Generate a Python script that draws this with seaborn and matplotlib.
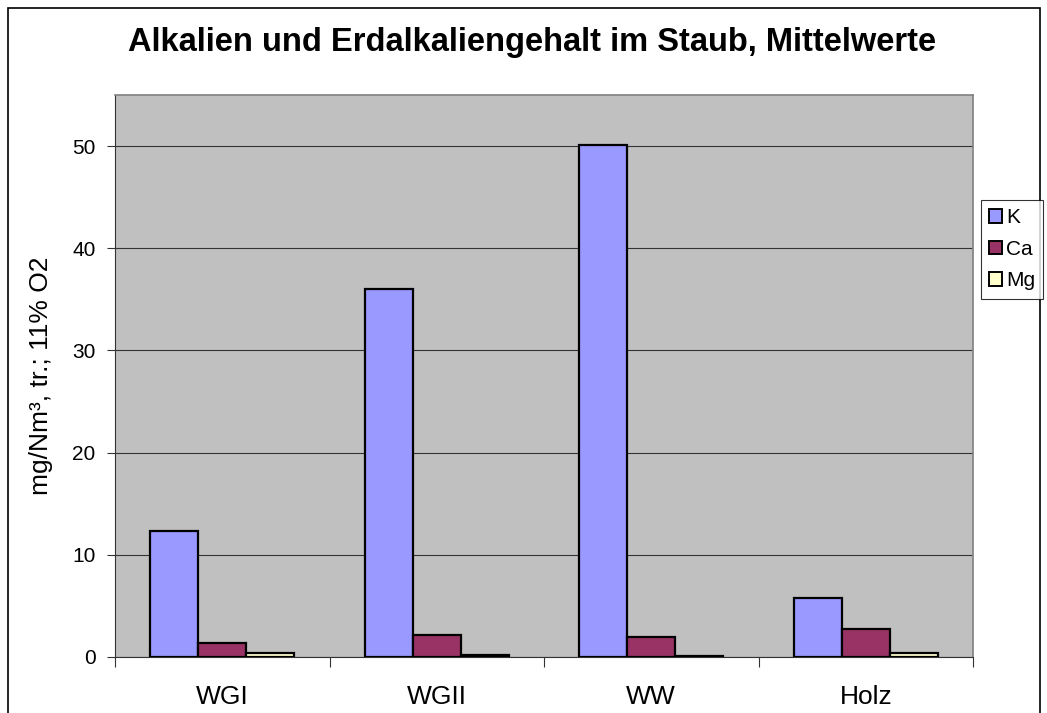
import pandas as pd
import matplotlib.pyplot as plt
import seaborn as sns
from matplotlib.patches import Rectangle
from matplotlib.ticker import FixedLocator

categories = ['WGI', 'WGII', 'WW', 'Holz']
k_values = [12.3, 36.0, 50.1, 5.8]
ca_values = [1.4, 2.2, 2.0, 2.7]
mg_values = [0.4, 0.15, 0.12, 0.43]
series = ['K', 'Ca', 'Mg']
colors = ['#9999FF', '#993366', '#FFFFCC']

df = pd.DataFrame({
    'Kategorie': categories * 3,
    'Element': [s for s in series for _ in categories],
    'Wert': k_values + ca_values + mg_values,
})

sns.set_style('white')
plt.rcParams['font.family'] = ['Liberation Sans', 'DejaVu Sans']
plt.rcParams['text.color'] = 'black'
plt.rcParams['xtick.color'] = 'black'
plt.rcParams['ytick.color'] = 'black'
plt.rcParams['axes.labelcolor'] = 'black'

fig = plt.figure(figsize=(10.47, 7.13), dpi=100)
ax = fig.add_axes([115 / 1047, 1 - 657 / 713, 858 / 1047, 562 / 713])
ax.set_facecolor('#C0C0C0')

sns.barplot(data=df, x='Kategorie', y='Wert', hue='Element', order=categories,
            hue_order=series, palette=colors, saturation=1, width=0.673, gap=0,
            edgecolor='black', linewidth=1.6, ax=ax, legend=False, zorder=3)

ax.set_ylim(0, 55)
ax.set_xlim(-0.5, 3.5)
ax.set_yticks([0, 10, 20, 30, 40, 50])
ax.yaxis.grid(True, color='#333333', linewidth=0.8, zorder=0)
ax.set_axisbelow(True)
ax.tick_params(axis='y', left=True, length=6, width=0.8, color='#333333',
               labelsize=15, pad=8)
ax.tick_params(axis='x', which='major', length=0, labelsize=19, pad=20)
ax.xaxis.set_minor_locator(FixedLocator([-0.5, 0.5, 1.5, 2.5, 3.5]))
ax.tick_params(axis='x', which='minor', bottom=True, length=7, width=0.8, color='#333333')
ax.set_xlabel('')
ax.set_ylabel('mg/Nm³, tr.; 11% O2', fontsize=19, labelpad=14)
for side in ['top', 'right']:
    ax.spines[side].set_color('#808080')
    ax.spines[side].set_linewidth(1.2)
ax.spines['left'].set_color('#333333')
ax.spines['bottom'].set_color('#333333')
ax.spines['left'].set_linewidth(0.8)
ax.spines['bottom'].set_linewidth(0.8)

fig.text(532 / 1047, 1 - 42 / 713, 'Alkalien und Erdalkaliengehalt im Staub, Mittelwerte',
         ha='center', va='center', fontsize=23.5, fontweight='bold')

handles = [Rectangle((0, 0), 1, 1, facecolor=c, edgecolor='black', linewidth=1.4)
           for c in colors]
leg = fig.legend(handles, series, loc='upper left',
                 bbox_to_anchor=(981 / 1047, 1 - 200 / 713), fontsize=15,
                 frameon=True, fancybox=False, edgecolor='black',
                 handlelength=0.6, handleheight=0.6, handletextpad=0.2,
                 borderpad=0.4, labelspacing=0.6, borderaxespad=0)
leg.get_frame().set_linewidth(0.8)

fig.patches.append(Rectangle((8 / 1047, -0.05), 1032 / 1047, 1.05 - 8 / 713,
                             transform=fig.transFigure, fill=False,
                             edgecolor='black', linewidth=1.2))

fig.savefig('out.png', dpi=100)
